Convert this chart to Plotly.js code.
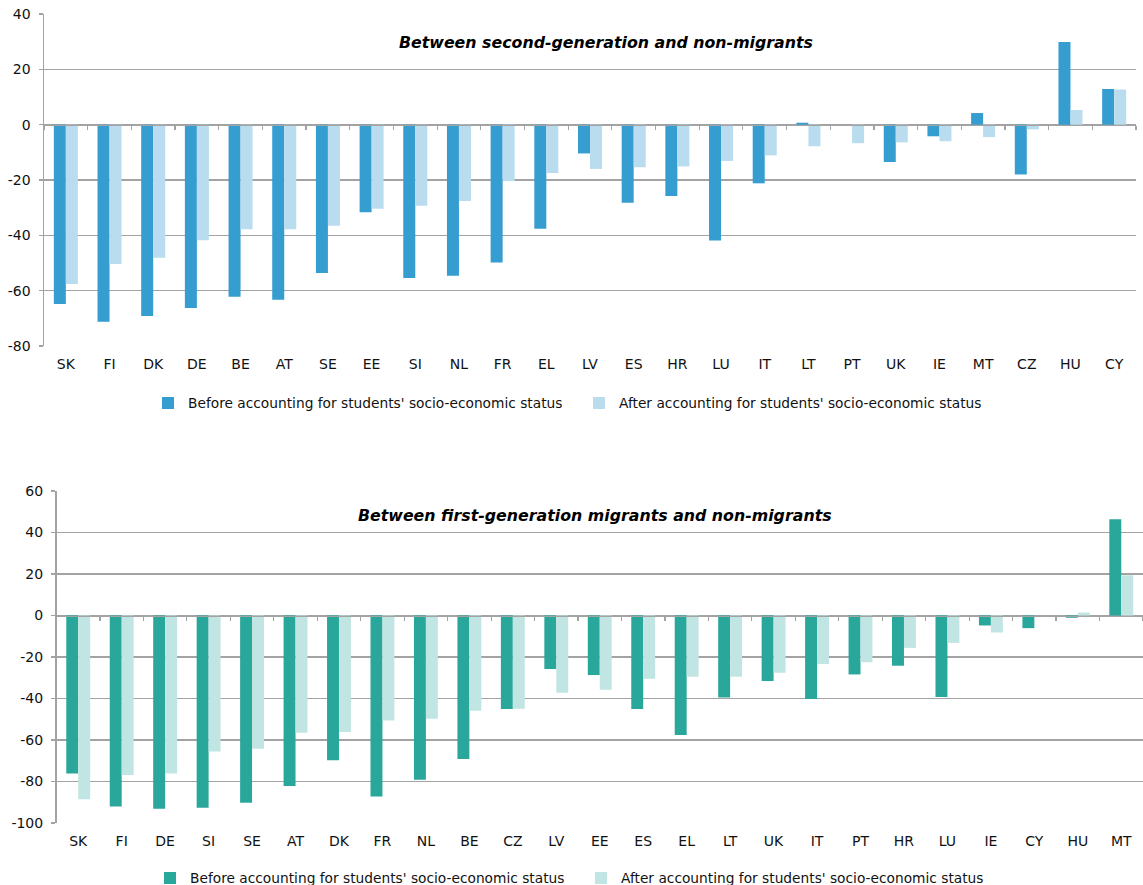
<!DOCTYPE html>
<html>
<head>
<meta charset="utf-8">
<script src="https://cdn.plot.ly/plotly-3.0.1.min.js"></script>
<style>
  html, body { margin: 0; padding: 0; overflow: hidden; background: #fff; }
  #chart { width: 1143px; height: 885px; }
</style>
</head>
<body>
<div id="chart"></div>
<script>
// ---- Data: second-generation vs non-migrants ----
const countriesSecond = ["SK","FI","DK","DE","BE","AT","SE","EE","SI","NL","FR","EL","LV","ES","HR","LU","IT","LT","PT","UK","IE","MT","CZ","HU","CY"];
const secondBefore = [-64.8,-71.2,-69.2,-66.3,-62.2,-63.3,-53.6,-31.7,-55.4,-54.6,-49.8,-37.6,-10.4,-28.2,-25.8,-41.9,-21.2,0.7,null,-13.5,-4.2,4.2,-18.0,29.9,12.9];
const secondAfter  = [-57.6,-50.4,-48.1,-41.8,-37.8,-37.8,-36.5,-30.4,-29.3,-27.6,-20.4,-17.5,-16.0,-15.4,-15.1,-13.1,-11.1,-7.8,-6.7,-6.4,-6.0,-4.5,-1.7,5.3,12.7];

// ---- Data: first-generation migrants vs non-migrants ----
const countriesFirst = ["SK","FI","DE","SI","SE","AT","DK","FR","NL","BE","CZ","LV","EE","ES","EL","LT","UK","IT","PT","HR","LU","IE","CY","HU","MT"];
const firstBefore = [-76.2,-92.1,-93.1,-92.6,-90.2,-82.2,-69.7,-87.2,-79.1,-69.2,-45.1,-25.8,-28.7,-45.1,-57.6,-39.5,-31.6,-40.3,-28.4,-24.2,-39.3,-4.8,-6.1,-1.1,46.4];
const firstAfter  = [-88.6,-76.9,-76.1,-65.6,-64.2,-56.5,-56.2,-50.6,-49.8,-45.9,-44.9,-37.2,-35.8,-30.5,-29.5,-29.5,-27.6,-23.4,-22.5,-15.6,-13.2,-8.2,null,1.4,19.4];

const seriesNames = ["Before accounting for students' socio-economic status",
                     "After accounting for students' socio-economic status"];
const yTicksTop = [-80,-60,-40,-20,0,20,40];
const yTicksBottom = [-100,-80,-60,-40,-20,0,20,40,60];

// ---- Layout geometry (pixels) ----
const W = 1143, H = 885;
const topBox = {x0: 44, x1: 1136, y0: 14, y1: 346};
const botBox = {x0: 56.5, x1: 1143, y0: 491, y1: 823};
const rangeTop = [-80, 40], rangeBot = [-100, 60];
const FONT = "DejaVu Sans, Verdana, sans-serif";
const FS = 14, FSL = 13.75;
const GRID = "#a3a3a3";

function xdom(b) { return [b.x0 / W, b.x1 / W]; }
function ydom(b) { return [1 - b.y1 / H, 1 - b.y0 / H]; }
function zeroPos(b, r) {
  const d = ydom(b);
  return d[0] + (0 - r[0]) / (r[1] - r[0]) * (d[1] - d[0]);
}
function boundaries(n) {
  const v = [];
  for (let i = 0; i <= n; i++) v.push(i - 0.5);
  return v;
}

const colTop = ["#369dd0", "#b9ddef"];
const colBot = ["#2aa79b", "#c1e5e2"];

const traces = [
  {type: "bar", x: countriesSecond, y: secondBefore, name: seriesNames[0], marker: {color: colTop[0]}, xaxis: "x", yaxis: "y", legend: "legend"},
  {type: "bar", x: countriesSecond, y: secondAfter,  name: seriesNames[1], marker: {color: colTop[1]}, xaxis: "x", yaxis: "y", legend: "legend"},
  {type: "bar", x: countriesFirst, y: firstBefore, name: seriesNames[0], marker: {color: colBot[0]}, xaxis: "x2", yaxis: "y2", legend: "legend2"},
  {type: "bar", x: countriesFirst, y: firstAfter,  name: seriesNames[1], marker: {color: colBot[1]}, xaxis: "x2", yaxis: "y2", legend: "legend2"},
  // empty helper traces so the zero-line tick axes get their subplots
  {type: "scatter", x: [], y: [], xaxis: "x3", yaxis: "y", showlegend: false, hoverinfo: "skip"},
  {type: "scatter", x: [], y: [], xaxis: "x4", yaxis: "y2", showlegend: false, hoverinfo: "skip"}
];

function xLabelAxis(box, cats, ya) {
  return {
    domain: xdom(box), anchor: ya,
    type: "category", categoryorder: "array", categoryarray: cats,
    range: [-0.5, cats.length - 0.5],
    showline: false, ticks: "outside", ticklen: 5, tickcolor: "rgba(0,0,0,0)",
    showgrid: false, zeroline: false, fixedrange: true,
    tickfont: {family: FONT, size: FS, color: "#111"}
  };
}
function xZeroAxis(box, range, n, over) {
  return {
    domain: xdom(box), anchor: "free", position: zeroPos(box, range), overlaying: over,
    type: "linear", range: [-0.5, n - 0.5],
    tickvals: boundaries(n), showticklabels: false,
    showline: true, linecolor: GRID, linewidth: 1.5,
    ticks: "outside", ticklen: 4, tickcolor: GRID, tickwidth: 1.2,
    showgrid: false, zeroline: false, fixedrange: true
  };
}
function yAxis(box, range, ticks, xa) {
  return {
    domain: ydom(box), anchor: xa, range: range,
    tickvals: ticks, ticktext: ticks.map(String),
    showline: true, linecolor: GRID, linewidth: 1.5,
    ticks: "outside", ticklen: 4, tickcolor: GRID, tickwidth: 1.2,
    ticklabelstandoff: 5,
    showgrid: true, gridcolor: GRID, gridwidth: 1.5,
    zeroline: false, fixedrange: true,
    tickfont: {family: FONT, size: FS, color: "#111"}
  };
}

const layout = {
  width: W, height: H,
  margin: {l: 0, r: 0, t: 0, b: 0, autoexpand: false},
  paper_bgcolor: "#fff", plot_bgcolor: "#fff",
  barmode: "group", bargap: 0.45, bargroupgap: 0,
  font: {family: FONT, size: FS, color: "#111"},
  showlegend: true,
  xaxis: xLabelAxis(topBox, countriesSecond, "y"),
  yaxis: yAxis(topBox, rangeTop, yTicksTop, "x"),
  xaxis2: xLabelAxis(botBox, countriesFirst, "y2"),
  yaxis2: yAxis(botBox, rangeBot, yTicksBottom, "x2"),
  xaxis3: xZeroAxis(topBox, rangeTop, countriesSecond.length, "x"),
  xaxis4: xZeroAxis(botBox, rangeBot, countriesFirst.length, "x2"),
  legend: {
    orientation: "h", x: 148 / W, xanchor: "left", y: 1 - 403 / H, yanchor: "middle",
    font: {family: FONT, size: FSL, color: "#111"}, bgcolor: "rgba(0,0,0,0)",
    entrywidth: 386, entrywidthmode: "pixels", itemclick: false, itemdoubleclick: false
  },
  legend2: {
    orientation: "h", x: 150 / W, xanchor: "left", y: 1 - 878 / H, yanchor: "middle",
    font: {family: FONT, size: FSL, color: "#111"}, bgcolor: "rgba(0,0,0,0)",
    entrywidth: 386, entrywidthmode: "pixels", itemclick: false, itemdoubleclick: false
  },
  annotations: [
    {text: "<b><i>Between second-generation and non-migrants</i></b>", xref: "paper", yref: "paper",
     x: 606 / W, y: 1 - 42 / H, xanchor: "center", yanchor: "middle", showarrow: false,
     font: {family: FONT, size: 15.8, color: "#000"}},
    {text: "<b><i>Between first-generation migrants and non-migrants</i></b>", xref: "paper", yref: "paper",
     x: 595 / W, y: 1 - 515 / H, xanchor: "center", yanchor: "middle", showarrow: false,
     font: {family: FONT, size: 15.8, color: "#000"}}
  ]
};

Plotly.newPlot("chart", traces, layout, {displayModeBar: false, staticPlot: true});
</script>
</body>
</html>
